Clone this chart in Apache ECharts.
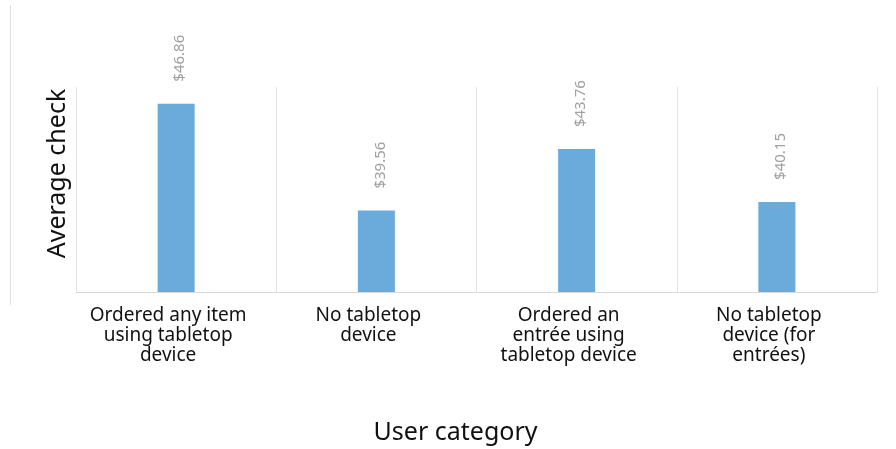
<!DOCTYPE html>
<html><head><meta charset="utf-8">
<script src="https://cdn.jsdelivr.net/npm/echarts@6/dist/echarts.min.js"></script>
<style>html,body{margin:0;padding:0;background:#fff}#c{width:896px;height:449px}</style>
</head><body><div id="c"></div>
<script>
const categories = ["Ordered any item\nusing tabletop\ndevice", "No tabletop\ndevice", "Ordered an\nentrée using\ntabletop device", "No tabletop\ndevice (for\nentrées)"];
const values = [46.86, 39.56, 43.76, 40.15];
const xTitle = "User category";
const yTitle = "Average check";

const chart = echarts.init(document.getElementById('c'));
chart.setOption({
  animation: false,
  textStyle: { fontFamily: 'Noto Sans' },
  grid: { left: 76, right: 19, top: 87, bottom: 157 },
  graphic: [{ type: 'line', shape: { x1: 10.5, y1: 5, x2: 10.5, y2: 305 }, style: { stroke: '#e0e0e0', lineWidth: 1 } }],
  xAxis: {
    type: 'category', data: categories,
    name: xTitle, nameLocation: 'middle', nameGap: 128,
    nameTextStyle: { fontSize: 25, color: '#111', fontFamily: 'Noto Sans', padding: [0, 42, 0, 0] },
    axisLine: { lineStyle: { color: '#d9d9d9', width: 1 } },
    axisTick: { show: false },
    splitLine: { show: true, lineStyle: { color: '#e3e3e3', width: 1 } },
    axisLabel: { fontSize: 19, color: '#111', lineHeight: 20, margin: 14, fontFamily: 'Noto Sans', interval: 0, padding: [0, 16, 0, 0] }
  },
  yAxis: {
    type: 'value', min: 34, max: 48, interval: 14,
    name: yTitle, nameLocation: 'middle', nameGap: 6,
    nameTextStyle: { fontSize: 25, color: '#111', fontFamily: 'Noto Sans', padding: [0, 0, 0, 32] },
    axisLine: { show: false }, axisTick: { show: false }, axisLabel: { show: false },
    splitLine: { show: false }
  },
  series: [{
    type: 'bar', data: values, barWidth: 37,
    itemStyle: { color: '#6aabdc' },
    label: {
      show: true, position: 'top', rotate: 90, align: 'left', verticalAlign: 'middle',
      distance: 22, fontSize: 15, color: '#a0a0a0', offset: [0, 4],
      formatter: p => '$' + p.value.toFixed(2)
    }
  }]
});
</script></body></html>
